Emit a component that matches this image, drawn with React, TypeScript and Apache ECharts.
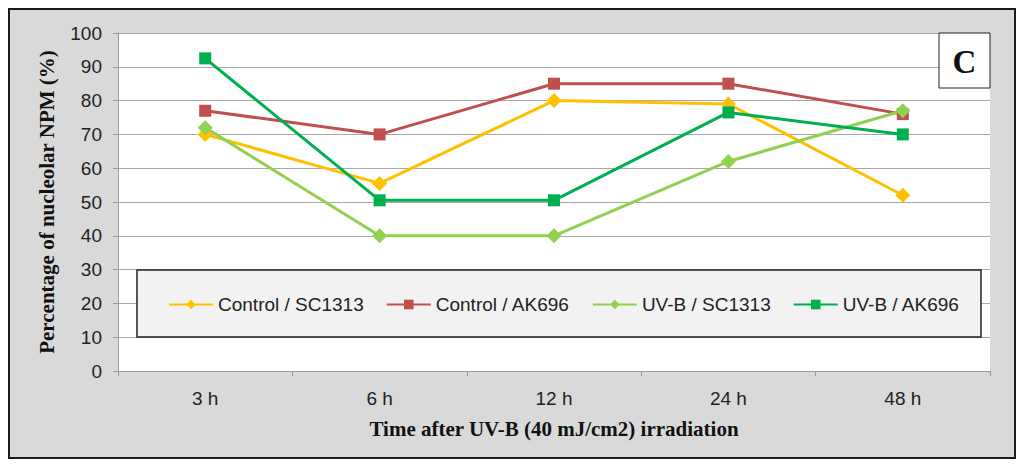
import React, { useEffect, useRef } from "react";
import * as echarts from "echarts";

const categories = ["3 h", "6 h", "12 h", "24 h", "48 h"];
const controlSC1313 = [70, 55.5, 80, 79, 52];
const controlAK696 = [77, 70, 85, 85, 76];
const uvbSC1313 = [72, 40, 40, 62, 77];
const uvbAK696 = [92.5, 50.5, 50.5, 76.5, 70];
const seriesNames = ["Control / SC1313", "Control / AK696", "UV-B / SC1313", "UV-B / AK696"];

const SANS = "'Liberation Sans', Arial, sans-serif";
const SERIF = "'Liberation Serif', 'Times New Roman', serif";

export default function App() {
  const ref = useRef<HTMLDivElement>(null);
  useEffect(() => {
    if (!ref.current) return;
    const chart = echarts.init(ref.current, undefined, { renderer: "svg" });
    const mk = (name: string, data: number[], color: string, symbol: string, size: number) => ({
      name,
      type: "line",
      data,
      symbol,
      symbolSize: size,
      lineStyle: { color, width: 3 },
      itemStyle: { color },
      z: 20,
    });
    chart.setOption({
      animation: false,
      backgroundColor: "#ffffff",
      graphic: [
        {
          type: "rect",
          z: -20,
          shape: { x: 9, y: 9, width: 1006, height: 449 },
          style: { fill: "#d9d9d9", stroke: "#1a1a1a", lineWidth: 2 },
        },
        {
          type: "rect",
          z: -10,
          shape: { x: 118, y: 33, width: 872, height: 338 },
          style: { fill: "#ffffff" },
        },
        {
          type: "rect",
          z: 5,
          shape: { x: 137, y: 270, width: 844, height: 67 },
          style: { fill: "#f2f2f2", stroke: "#222222", lineWidth: 1.5 },
        },
        {
          type: "rect",
          z: 5,
          shape: { x: 939, y: 33, width: 51, height: 55 },
          style: { fill: "#ffffff", stroke: "#222222", lineWidth: 1 },
        },
        {
          type: "text",
          z: 6,
          x: 964.5,
          y: 62,
          style: {
            text: "C",
            fontFamily: SERIF,
            fontWeight: "bold",
            fontSize: 33,
            fill: "#111111",
            align: "center",
            verticalAlign: "middle",
          },
        },
      ],
      legend: {
        z: 10,
        left: 163,
        top: 290,
        itemWidth: 44,
        itemHeight: 12,
        itemGap: 22,
        data: seriesNames,
        textStyle: { fontFamily: SANS, fontSize: 19, color: "#222222" },
      },
      grid: { left: 118, right: 34, top: 33, bottom: 97 },
      xAxis: {
        type: "category",
        data: categories,
        boundaryGap: true,
        axisLine: { lineStyle: { color: "#9a9a9a", width: 1 } },
        axisTick: { show: true, length: 5, lineStyle: { color: "#9a9a9a" } },
        axisLabel: { fontFamily: SANS, fontSize: 19, color: "#222222", margin: 18 },
        name: "Time after UV-B (40 mJ/cm2) irradiation",
        nameLocation: "middle",
        nameGap: 47,
        nameTextStyle: { fontFamily: SERIF, fontWeight: "bold", fontSize: 21, color: "#111111" },
      },
      yAxis: {
        type: "value",
        min: 0,
        max: 100,
        interval: 10,
        axisLine: { show: true, lineStyle: { color: "#9a9a9a", width: 1 } },
        axisTick: { show: true, length: 5, lineStyle: { color: "#9a9a9a" } },
        axisLabel: { fontFamily: SANS, fontSize: 19, color: "#222222", margin: 16 },
        splitLine: { show: true, lineStyle: { color: "#a8a8a8", width: 1 } },
        name: "Percentage of nucleolar NPM (%)",
        nameLocation: "middle",
        nameRotate: 90,
        nameGap: 61,
        nameTextStyle: { fontFamily: SERIF, fontWeight: "bold", fontSize: 21, color: "#111111" },
      },
      series: [
        mk(seriesNames[0], controlSC1313, "#ffc000", "diamond", 15),
        mk(seriesNames[1], controlAK696, "#c0504d", "rect", 12),
        mk(seriesNames[2], uvbSC1313, "#92d050", "diamond", 15),
        mk(seriesNames[3], uvbAK696, "#00b050", "rect", 12),
      ],
    });
    return () => chart.dispose();
  }, []);
  return (
    <div
      ref={ref}
      style={{ position: "absolute", left: 0, top: 0, width: 1024, height: 468 }}
    />
  );
}
